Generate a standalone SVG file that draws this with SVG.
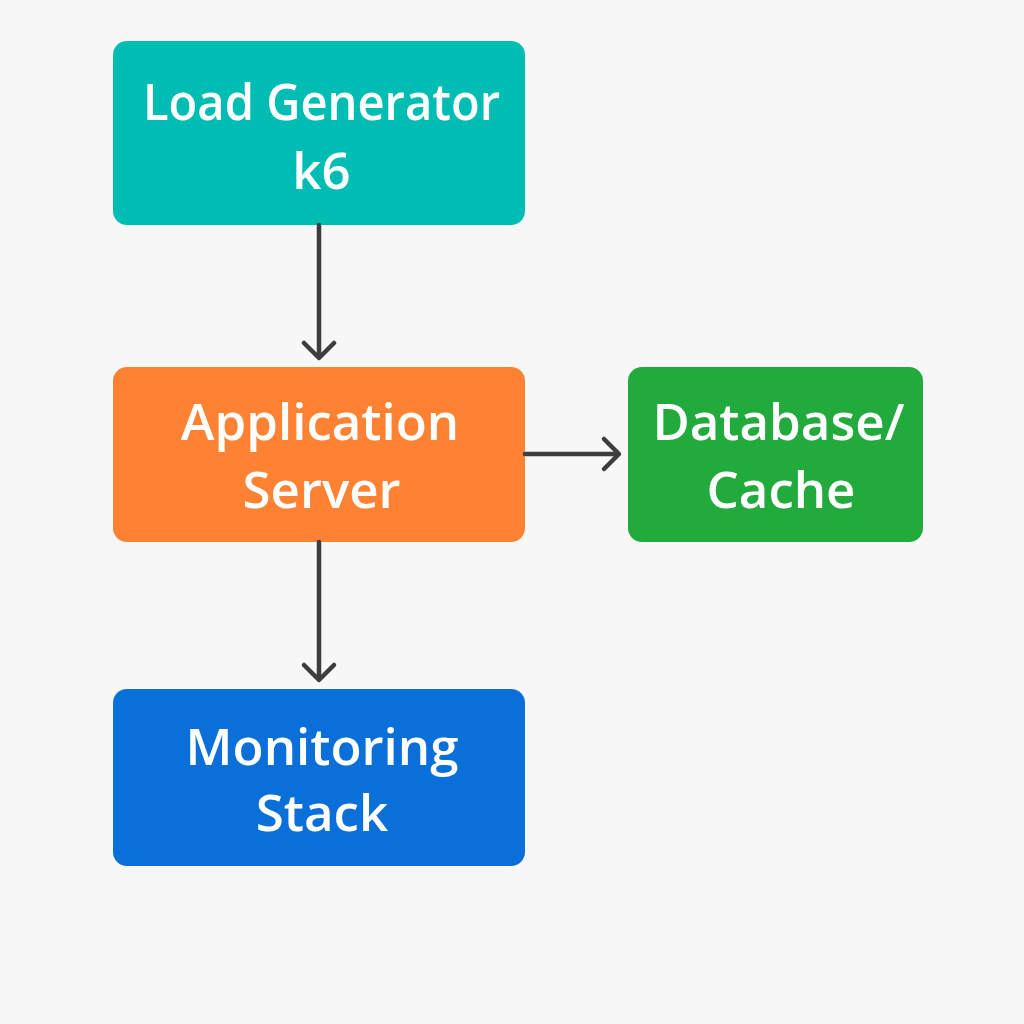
<svg xmlns="http://www.w3.org/2000/svg" width="1024" height="1024" viewBox="0 0 1024 1024">
<defs>
<style>
.lbl{font-family:"Open Sans","Noto Sans","Liberation Sans",sans-serif;font-weight:600;font-size:51px;fill:#ffffff;text-anchor:middle}
.conn{stroke:#3d3d3d;stroke-width:4.5;fill:none;stroke-linecap:round;stroke-linejoin:round}
</style>
</defs>
<rect width="1024" height="1024" fill="#f7f7f7"/>
<g id="load-generator">
<rect x="113" y="41" width="412" height="184" rx="14" fill="#00bdb3"/>
<text class="lbl" x="321.5" y="120" textLength="357" lengthAdjust="spacingAndGlyphs">Load Generator</text>
<text class="lbl" x="321.5" y="189">k6</text>
</g>
<g id="application-server">
<rect x="113" y="367" width="412" height="175" rx="14" fill="#ff8132"/>
<text class="lbl" x="320" y="440">Application</text>
<text class="lbl" x="321.5" y="508">Server</text>
</g>
<g id="database-cache">
<rect x="628" y="367" width="295" height="175" rx="14" fill="#22aa3c"/>
<text class="lbl" x="778.5" y="440" font-size="50">Database/</text>
<text class="lbl" x="781" y="508" font-size="50">Cache</text>
</g>
<g id="monitoring-stack">
<rect x="113" y="689" width="412" height="177" rx="14" fill="#0a6fd8"/>
<text class="lbl" x="322" y="765">Monitoring</text>
<text class="lbl" x="322" y="831">Stack</text>
</g>
<g id="connectors">
<path class="conn" d="M319 225 V357 M304 343 L319 358 L334 343"/>
<path class="conn" d="M525 454 H618 M604 439 L619 454 L604 469"/>
<path class="conn" d="M319 542 V679 M304 665 L319 680 L334 665"/>
</g>
</svg>
